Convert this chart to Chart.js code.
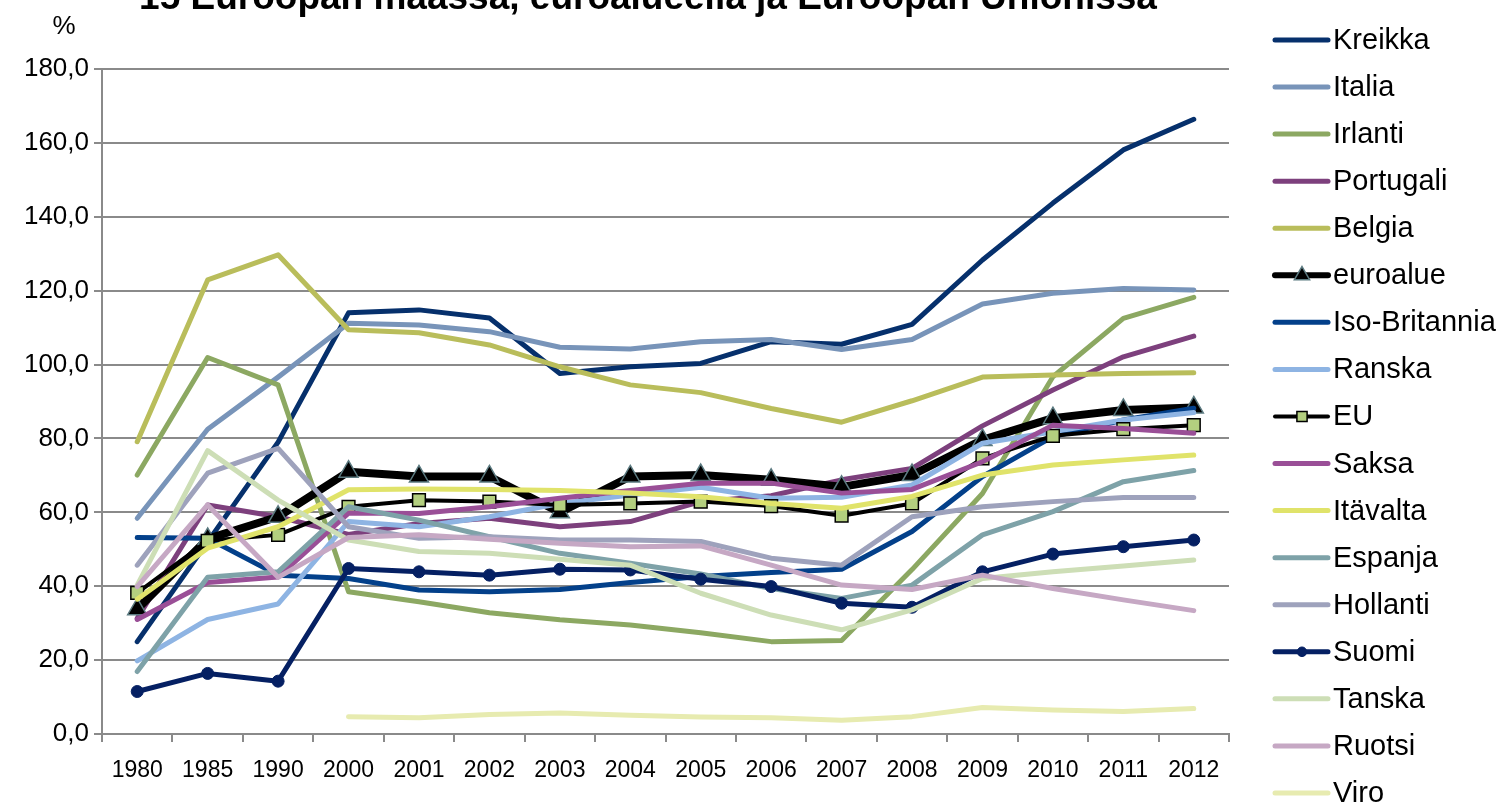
<!DOCTYPE html>
<html>
<head>
<meta charset="utf-8">
<script src="https://cdn.jsdelivr.net/npm/chart.js@4"></script>
<style>
  html, body { margin: 0; padding: 0; background: #fff; }
  #wrap { width: 1501px; height: 810px; }
</style>
</head>
<body>
<div id="wrap"><canvas id="debtChart" width="1501" height="810"></canvas></div>
<script>
// Julkinen velka, % BKT:sta

const years = ['1980', '1985', '1990', '2000', '2001', '2002', '2003', '2004',
               '2005', '2006', '2007', '2008', '2009', '2010', '2011', '2012'];

const kreikka      = [25.0, 52.0, 79.0, 114.0, 114.8, 112.6, 97.6, 99.4, 100.3, 106.2, 105.5, 110.9, 128.3, 143.7, 158.1, 166.4];
const italia       = [58.4, 82.5, 96.6, 111.2, 110.7, 108.9, 104.7, 104.2, 106.2, 106.8, 104.1, 106.8, 116.4, 119.3, 120.6, 120.2];
const irlanti      = [70.1, 101.9, 94.5, 38.5, 35.8, 32.8, 30.9, 29.5, 27.4, 25.0, 25.3, 44.5, 65.1, 96.7, 112.5, 118.2];
const portugali    = [31.3, 62.0, 58.8, 54.0, 57.0, 58.4, 56.1, 57.5, 62.9, 64.5, 68.8, 71.9, 83.4, 93.1, 102.1, 107.7];
const belgia       = [79.1, 122.9, 129.7, 109.4, 108.6, 105.3, 99.4, 94.5, 92.4, 88.1, 84.4, 90.2, 96.6, 97.2, 97.6, 97.8];
const euroalue     = [33.8, 52.8, 58.8, 71.0, 69.7, 69.7, 60.0, 69.7, 70.1, 68.8, 66.9, 70.1, 79.6, 85.5, 87.7, 88.4];
const isoBritannia = [53.2, 53.0, 43.0, 42.1, 39.0, 38.5, 39.1, 41.0, 42.6, 43.7, 44.6, 54.8, 69.7, 80.5, 85.0, 88.2];
const ranska       = [19.8, 31.0, 35.2, 57.5, 56.1, 58.8, 62.4, 64.7, 66.8, 63.8, 64.1, 67.4, 78.7, 81.8, 85.0, 87.0];
const eu           = [38.2, 52.3, 53.9, 61.5, 63.3, 62.9, 62.0, 62.4, 62.9, 61.7, 59.1, 62.4, 74.6, 80.7, 82.5, 83.6];
const saksa        = [31.0, 41.0, 42.5, 59.8, 59.7, 61.5, 63.8, 65.9, 67.9, 67.9, 65.2, 66.2, 73.7, 83.6, 82.7, 81.4];
const itavalta     = [36.5, 50.3, 56.1, 66.1, 66.3, 66.2, 65.9, 65.2, 64.2, 62.4, 61.1, 64.3, 70.1, 72.8, 74.2, 75.5];
const espanja      = [16.9, 42.4, 43.9, 61.5, 57.9, 53.4, 48.9, 46.2, 43.3, 39.4, 36.7, 40.3, 53.9, 60.2, 68.3, 71.3];
const hollanti     = [45.7, 70.6, 77.3, 56.1, 53.0, 53.4, 52.5, 52.5, 52.1, 47.6, 45.7, 58.8, 61.5, 62.9, 64.0, 64.0];
const suomi        = [11.5, 16.4, 14.3, 44.8, 43.9, 43.0, 44.6, 44.4, 41.9, 39.9, 35.4, 34.3, 43.9, 48.7, 50.7, 52.5];
const tanska       = [40.3, 76.7, 63.3, 52.5, 49.4, 48.9, 47.3, 45.7, 38.1, 32.2, 28.2, 33.6, 42.1, 43.9, 45.5, 47.1];
const ruotsi       = [39.9, 62.0, 42.4, 53.2, 53.9, 52.7, 51.6, 50.7, 50.9, 45.7, 40.3, 39.1, 43.0, 39.4, 36.3, 33.4];
const viro         = [null, null, null, 4.7, 4.4, 5.3, 5.7, 5.1, 4.6, 4.4, 3.7, 4.7, 7.2, 6.5, 6.1, 6.9];

// same order as the legend; later series are drawn on top
const seriesList = [
    ['Kreikka', kreikka],
    ['Italia', italia],
    ['Irlanti', irlanti],
    ['Portugali', portugali],
    ['Belgia', belgia],
    ['euroalue', euroalue],
    ['Iso-Britannia', isoBritannia],
    ['Ranska', ranska],
    ['EU', eu],
    ['Saksa', saksa],
    ['Itävalta', itavalta],
    ['Espanja', espanja],
    ['Hollanti', hollanti],
    ['Suomi', suomi],
    ['Tanska', tanska],
    ['Ruotsi', ruotsi],
    ['Viro', viro]
];

const styles = {
    'Kreikka':       { color: '#06306c', width: 5 },
    'Italia':        { color: '#7894b9', width: 5 },
    'Irlanti':       { color: '#8ca862', width: 5 },
    'Portugali':     { color: '#7d407d', width: 5 },
    'Belgia':        { color: '#b9bd5b', width: 5 },
    'euroalue':      { color: '#000000', width: 8, marker: 'triangle', size: 11, fill: '#000000', edge: '#5b7a80', edgeWidth: 1.5 },
    'Iso-Britannia': { color: '#03408a', width: 5 },
    'Ranska':        { color: '#8eb4e3', width: 5 },
    'EU':            { color: '#000000', width: 4, marker: 'rect', size: 9, fill: '#b3cf7f', edge: '#000000', edgeWidth: 1.5 },
    'Saksa':         { color: '#9a4f97', width: 5 },
    'Itävalta':      { color: '#e0e36a', width: 5 },
    'Espanja':       { color: '#7ea2a8', width: 5 },
    'Hollanti':      { color: '#9ea2bc', width: 5 },
    'Suomi':         { color: '#052063', width: 5, marker: 'circle', size: 6, fill: '#052063', edge: '#052063', edgeWidth: 1 },
    'Tanska':        { color: '#cddeb6', width: 5 },
    'Ruotsi':        { color: '#c6a8c4', width: 5 },
    'Viro':          { color: '#e7ebb0', width: 5 }
};

const titleText = '15 Euroopan maassa, euroalueella ja Euroopan Unionissa';
const fontFamily = '"Liberation Sans", Arial, sans-serif';

const datasets = seriesList.map(([label, values], i) => {
    const s = styles[label];
    return {
        label: label,
        data: values,
        borderColor: s.color,
        backgroundColor: s.fill || s.color,
        borderWidth: s.width,
        borderCapStyle: 'round',
        borderJoinStyle: 'round',
        tension: 0,
        pointStyle: s.marker || 'circle',
        pointRadius: s.marker ? s.size : 0,
        pointHoverRadius: s.marker ? s.size : 0,
        pointBackgroundColor: s.fill || s.color,
        pointBorderColor: s.edge || s.color,
        pointBorderWidth: s.edgeWidth || 1,
        order: seriesList.length - i
    };
});

// title (cut at the top edge), "%" unit and the legend on the right
const decorations = {
    id: 'decorations',
    afterDraw(chart) {
        const ctx = chart.ctx;
        ctx.save();
        ctx.fillStyle = '#000';
        ctx.textAlign = 'center';
        ctx.textBaseline = 'alphabetic';
        ctx.font = 'bold 37px ' + fontFamily;
        ctx.fillText(titleText, 648, 9);
        ctx.font = '26px ' + fontFamily;
        ctx.fillText('%', 64, 34);

        ctx.textAlign = 'left';
        ctx.textBaseline = 'middle';
        ctx.font = '29px ' + fontFamily;
        chart.data.datasets.forEach((ds, i) => {
            const y = 40 + i * 47.06;
            ctx.strokeStyle = ds.borderColor;
            ctx.lineWidth = Math.min(ds.borderWidth, 6);
            ctx.lineCap = 'round';
            ctx.beginPath();
            ctx.moveTo(1275, y);
            ctx.lineTo(1328, y);
            ctx.stroke();
            if (ds.pointRadius > 0) {
                ctx.fillStyle = ds.pointBackgroundColor;
                ctx.strokeStyle = ds.pointBorderColor;
                ctx.lineWidth = ds.pointBorderWidth;
                Chart.helpers.drawPoint(ctx, {
                    pointStyle: ds.pointStyle,
                    radius: ds.pointRadius * 0.8,
                    borderWidth: ds.pointBorderWidth
                }, 1302, y);
            }
            ctx.fillStyle = '#000';
            ctx.fillText(ds.label, 1333, y + 1);
        });
        ctx.restore();
    }
};

const gridColor = '#8a8a8a';

new Chart(document.getElementById('debtChart'), {
    type: 'line',
    data: {
        labels: years,
        datasets: datasets
    },
    options: {
        responsive: false,
        animation: false,
        layout: {
            padding: { top: 69, right: 272, bottom: 0, left: 0 }
        },
        plugins: {
            legend: { display: false },
            title: { display: false },
            tooltip: { enabled: false }
        },
        scales: {
            x: {
                type: 'category',
                offset: true,
                grid: {
                    offset: true,
                    drawOnChartArea: false,
                    drawTicks: true,
                    tickLength: 8,
                    color: gridColor,
                    lineWidth: 2
                },
                border: { display: true, color: gridColor, width: 2 },
                ticks: {
                    color: '#000',
                    padding: 15,
                    maxRotation: 0,
                    autoSkip: false,
                    font: { family: fontFamily, size: 23 }
                },
                afterFit: function(scale) { scale.height = 76; }
            },
            y: {
                min: 0,
                max: 180,
                grid: {
                    color: gridColor,
                    lineWidth: 2,
                    tickLength: 8
                },
                border: { display: true, color: gridColor, width: 2 },
                ticks: {
                    stepSize: 20,
                    color: '#000',
                    padding: 5,
                    font: { family: fontFamily, size: 26 },
                    callback: function(value) {
                        return value.toFixed(1).replace('.', ',');
                    }
                },
                afterFit: function(scale) { scale.width = 102; }
            }
        }
    },
    plugins: [decorations]
});
</script>
</body>
</html>
